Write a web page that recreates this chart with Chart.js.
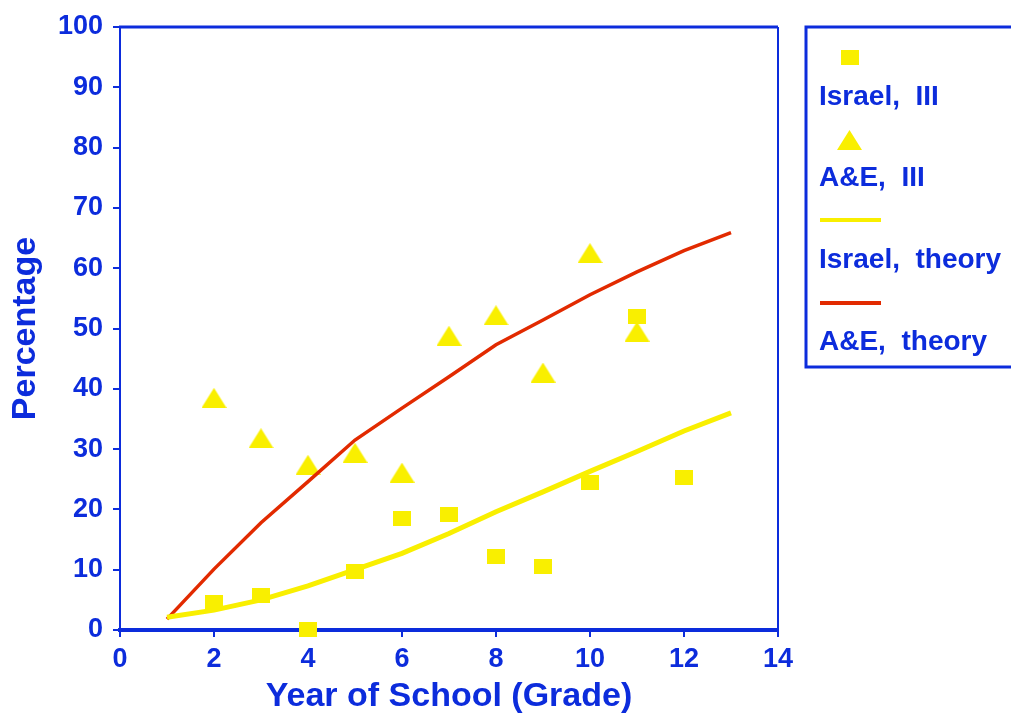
<!DOCTYPE html>
<html>
<head>
<meta charset="utf-8">
<title>Percentage by Year of School</title>
<script src="https://cdn.jsdelivr.net/npm/chart.js@4/dist/chart.umd.min.js"></script>
<style>
  body { margin: 0; background: #ffffff; }
  #wrap { width: 1011px; height: 717px; }
</style>
</head>
<body>
<div id="wrap"><canvas id="chart_grades" width="1011" height="717"></canvas></div>
<script>
// grades and values
var israelGrades = [2, 3, 4, 5, 6, 7, 8, 9, 10, 11, 12];
var israelObs = [4.5, 5.8, 0.1, 9.7, 18.5, 19.2, 12.2, 10.5, 24.4, 52.0, 25.3];
var aeGrades = [2, 3, 4, 5, 6, 7, 8, 9, 10, 11];
var aeObs = [38.5, 31.8, 27.4, 29.4, 26.1, 48.8, 52.2, 42.7, 62.5, 49.5];
var theoryGrades = [1, 2, 3, 4, 5, 6, 7, 8, 9, 10, 11, 12, 13];
var israelTheory = [2.1, 3.3, 5.0, 7.3, 10.0, 12.7, 16.0, 19.6, 22.9, 26.3, 29.6, 33.0, 36.0];
var aeTheory = [1.8, 10.1, 17.8, 24.6, 31.5, 36.8, 42.0, 47.3, 51.4, 55.6, 59.4, 62.9, 65.9];
var legendLabels = ["Israel,  III", "A&E,  III", "Israel,  theory", "A&E,  theory"];

var BLUE = "#0c2cdc";
var YELLOW = "#f9ef00";
var RED = "#e22a00";
var FONT = "'Liberation Sans', Arial, sans-serif";

function toPoints(xs, ys) {
  var out = [];
  for (var i = 0; i < xs.length; i++) out.push({x: xs[i], y: ys[i]});
  return out;
}

function makeSquare(w, h, color) {
  var c = document.createElement("canvas");
  c.width = w; c.height = h;
  var g = c.getContext("2d");
  g.fillStyle = color;
  g.fillRect(0, 0, w, h);
  return c;
}

function makeTriangle(w, h, color) {
  var c = document.createElement("canvas");
  c.width = w; c.height = h;
  var g = c.getContext("2d");
  g.fillStyle = color;
  g.beginPath();
  g.moveTo(w / 2, 0);
  g.lineTo(w, h);
  g.lineTo(0, h);
  g.closePath();
  g.fill();
  return c;
}

var squareImg = makeSquare(18, 15, YELLOW);
var triangleImg = makeTriangle(25, 20, YELLOW);

/* frame on top and right of the plot area, plus the boxed legend */
var framePlugin = {
  id: "frame",
  beforeDatasetsDraw: function (chart) {
    var a = chart.chartArea, ctx = chart.ctx;
    ctx.save();
    ctx.strokeStyle = BLUE;
    ctx.lineWidth = 3;
    ctx.beginPath();
    ctx.moveTo(a.left - 1, a.top);
    ctx.lineTo(a.right, a.top);
    ctx.stroke();
    ctx.lineWidth = 2;
    ctx.beginPath();
    ctx.moveTo(a.right, a.top);
    ctx.lineTo(a.right, a.bottom);
    ctx.stroke();
    ctx.restore();
  },
  afterDraw: function (chart) {
    var ctx = chart.ctx;
    ctx.save();
    ctx.strokeStyle = BLUE;
    ctx.lineWidth = 3;
    ctx.strokeRect(806, 27, 220, 340);
    // markers
    ctx.drawImage(squareImg, 850 - 9, 57 - 7);
    ctx.drawImage(triangleImg, 849 - 12, 140 - 10);
    ctx.lineWidth = 4;
    ctx.strokeStyle = YELLOW;
    ctx.beginPath(); ctx.moveTo(820, 220); ctx.lineTo(881, 220); ctx.stroke();
    ctx.strokeStyle = RED;
    ctx.beginPath(); ctx.moveTo(820, 303); ctx.lineTo(881, 303); ctx.stroke();
    // texts
    ctx.fillStyle = BLUE;
    ctx.font = "bold 28px " + FONT;
    ctx.textBaseline = "middle";
    ctx.textAlign = "left";
    var ys = [97, 178, 260, 342];
    for (var i = 0; i < legendLabels.length; i++) ctx.fillText(legendLabels[i], 819, ys[i]);
    ctx.restore();
  }
};

var ctx = document.getElementById("chart_grades").getContext("2d");
var myChart = new Chart(ctx, {
  type: "line",
  data: {
    datasets: [{
      label: legendLabels[2],
      data: toPoints(theoryGrades, israelTheory),
      borderColor: YELLOW,
      borderWidth: 5,
      pointRadius: 0,
      fill: false,
      tension: 0,
      order: 0
    }, {
      label: legendLabels[3],
      data: toPoints(theoryGrades, aeTheory),
      borderColor: RED,
      borderWidth: 3.5,
      pointRadius: 0,
      fill: false,
      tension: 0,
      order: 0
    }, {
      label: legendLabels[0],
      data: toPoints(israelGrades, israelObs),
      showLine: false,
      pointStyle: squareImg,
      pointRadius: 9,
      order: 1
    }, {
      label: legendLabels[1],
      data: toPoints(aeGrades, aeObs),
      showLine: false,
      pointStyle: triangleImg,
      pointRadius: 12,
      order: 1
    }]
  },
  options: {
    responsive: false,
    animation: false,
    clip: false,
    layout: { padding: { left: 0, top: 27, right: 233, bottom: 0 } },
    plugins: {
      legend: { display: false },
      tooltip: { enabled: false }
    },
    scales: {
      x: {
        type: "linear",
        min: 0,
        max: 14,
        afterFit: function (scale) { scale.height = 87; },
        ticks: { stepSize: 2, color: BLUE, padding: 6, font: { family: FONT, size: 27, weight: "bold" } },
        grid: { display: true, drawOnChartArea: false, drawTicks: true, tickLength: 7, color: BLUE, lineWidth: 2 },
        border: { display: true, color: BLUE, width: 4 },
        title: {
          display: true,
          text: "Year of School (Grade)",
          color: BLUE,
          padding: { top: 0, bottom: 0 },
          font: { family: FONT, size: 34, weight: "bold", lineHeight: 1.2 }
        }
      },
      y: {
        min: 0,
        max: 100,
        afterFit: function (scale) { scale.width = 120; },
        ticks: { stepSize: 10, color: BLUE, padding: 10, font: { family: FONT, size: 27, weight: "bold" } },
        grid: { display: true, drawOnChartArea: false, drawTicks: true, tickLength: 7, color: BLUE, lineWidth: 2 },
        border: { display: true, color: BLUE, width: 2 },
        title: {
          display: true,
          text: "Percentage",
          color: BLUE,
          padding: { top: 5, bottom: 0 },
          font: { family: FONT, size: 34, weight: "bold", lineHeight: 1.2 }
        }
      }
    }
  },
  plugins: [framePlugin]
});
</script>
</body>
</html>
